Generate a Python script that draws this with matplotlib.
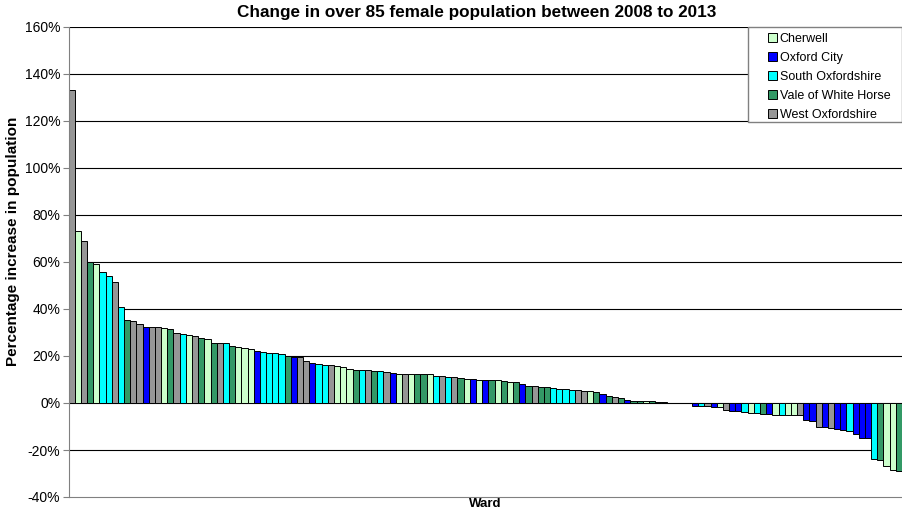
import numpy as np
import matplotlib.pyplot as plt
from matplotlib.patches import Patch, Rectangle

plt.rcParams['font.family'] = ['Liberation Sans', 'DejaVu Sans']

districts = ["Cherwell", "Oxford City", "South Oxfordshire",
             "Vale of White Horse", "West Oxfordshire"]
district_colors = ["#CCFFCC", "#0000FF", "#00FFFF", "#339966", "#969696"]

# district code per ward (C=Cherwell, O=Oxford City, S=South Oxon, V=Vale, W=West Oxon)
ward_district = "".join([
    "WCWVCSSWSV", "WWOWWCVWSC", "WVCVWSVCCC", "OSSSSVOWWO", "SSWCCCVSWV",
    "SWOCWCVVCS", "WSWVCOCOVC", "VCVOVWVVSS", "SSWWCVOVWV", "OVVCVVWCVW",
    "COSWOCWOOS", "CSVOCSCCWO", "OWOWOOSOOO", "SVCCV",
])

pct_change = [
    133.0, 73.3, 69.1, 59.8, 59.0, 55.9, 53.9, 51.5, 40.8, 35.4,
    34.9, 33.7, 32.2, 32.2, 32.2, 32.0, 31.6, 30.0, 29.3, 28.9,
    28.4, 27.5, 27.1, 25.6, 25.5, 25.5, 24.3, 23.8, 23.4, 23.1,
    22.1, 21.7, 21.3, 21.3, 20.7, 19.8, 19.6, 19.6, 17.9, 16.9,
    16.4, 16.3, 16.2, 15.9, 15.3, 14.6, 14.2, 14.2, 14.0, 13.8,
    13.5, 13.2, 12.7, 12.5, 12.5, 12.4, 12.4, 12.2, 12.2, 11.7,
    11.5, 11.2, 10.9, 10.8, 10.2, 10.2, 10.0, 10.0, 9.7, 9.6,
    9.4, 9.0, 8.8, 7.9, 7.2, 7.1, 6.9, 6.8, 6.5, 6.1,
    5.9, 5.5, 5.4, 5.2, 4.9, 4.7, 4.0, 3.1, 2.4, 2.3,
    1.4, 1.0, 0.9, 0.8, 0.7, 0.5, 0.3, 0.2, 0.15, 0.1,
    0.05, -1.1, -1.2, -1.1, -1.6, -1.7, -3.0, -3.2, -3.5, -3.9,
    -4.3, -4.4, -4.6, -4.8, -4.9, -5.0, -5.1, -5.2, -5.3, -7.4,
    -7.5, -10.0, -10.4, -10.8, -11.2, -11.6, -12.0, -13.4, -15.0, -15.0,
    -24.0, -24.4, -26.9, -28.7, -29.0,
]
assert len(ward_district) == len(pct_change)

code_color = dict(zip("COSVW", district_colors))
colors = [code_color[c] for c in ward_district]
x = np.arange(len(pct_change))

fig = plt.figure(figsize=(9.02, 5.15), dpi=100)
ax = fig.add_axes([68.5 / 902, 1 - 497 / 515, 1 - 68.5 / 902, 470 / 515])

for yv in range(-20, 161, 20):
    ax.axhline(yv, color="black", lw=0.8, zorder=1)

ax.bar(x, pct_change, width=1.0, color=colors, edgecolor="black",
       linewidth=0.7, zorder=2)

ax.set_xlim(-0.5, len(pct_change) - 0.5)
ax.set_ylim(-40, 160)
ax.set_yticks(range(-40, 161, 20))
ax.set_yticklabels([f"{v}%" for v in range(-40, 161, 20)], fontsize=10)
ax.set_xticks([])
ax.tick_params(axis="y", direction="out", length=4, width=0.8, color="#808080", pad=2)

for s in ["top", "right"]:
    ax.spines[s].set_visible(False)
ax.spines["left"].set_color("#808080")
ax.spines["bottom"].set_color("#808080")

fig.text(477 / 902, 1 - 12 / 515,
         "Change in over 85 female population between 2008 to 2013",
         ha="center", va="center", fontsize=12.3, fontweight="bold")
ax.set_ylabel("Percentage increase in population", fontsize=11,
              fontweight="bold")
ax.yaxis.set_label_coords(-0.058, (497 - 241) / 470)
ax.set_xlabel("Ward", fontsize=9.5, fontweight="bold", labelpad=1)

# legend box drawn separately so the entries can sit indented inside it
fig.patches.append(Rectangle((748 / 902, 1 - 122 / 515), 153.5 / 902, 95 / 515,
                             transform=fig.transFigure, facecolor="white",
                             edgecolor="#808080", linewidth=1.0, zorder=3))
handles = [Patch(facecolor=c, edgecolor="black", linewidth=0.7) for c in district_colors]
leg = fig.legend(handles, districts, loc="upper left",
                 bbox_to_anchor=(768 / 902, 1 - 33 / 515),
                 fontsize=9, frameon=False,
                 handlelength=0.75, handleheight=0.75, handletextpad=0.2,
                 borderpad=0.0, labelspacing=0.56, borderaxespad=0)
leg.set_zorder(4)

fig.savefig("out.png", dpi=100)
